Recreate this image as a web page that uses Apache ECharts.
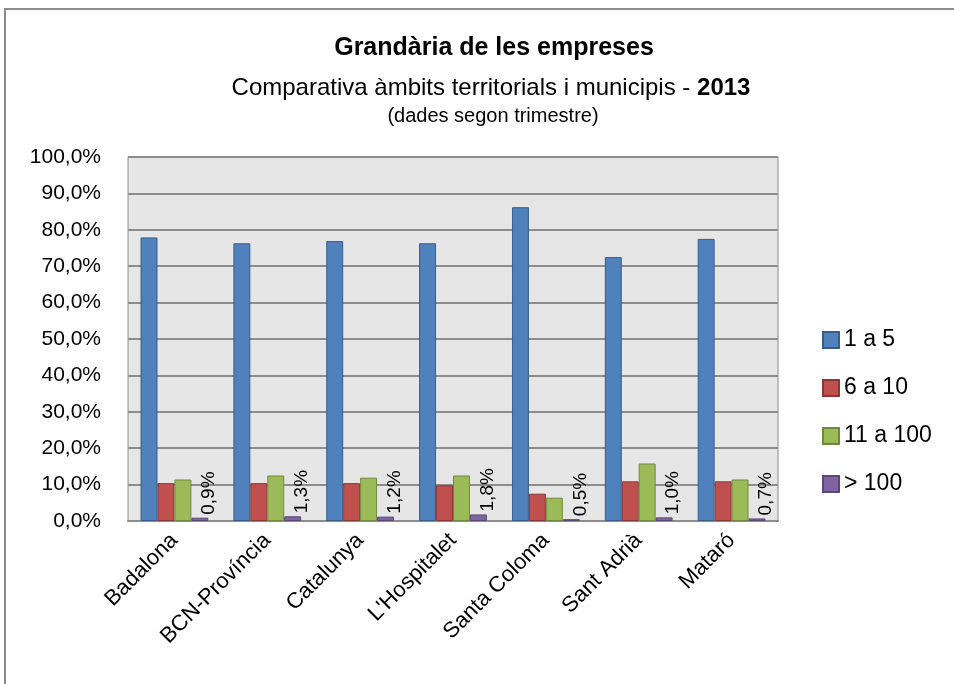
<!DOCTYPE html>
<html>
<head>
<meta charset="utf-8">
<script src="https://cdn.jsdelivr.net/npm/echarts@6/dist/echarts.min.js"></script>
<style>
html, body { margin: 0; padding: 0; background: #fff; }
#chart { width: 954px; height: 684px; }
</style>
</head>
<body>
<div id="chart"></div>
<script>
// dades llegides del gràfic (%)
var categories = ['Badalona', 'BCN-Província', 'Catalunya', "L'Hospitalet", 'Santa Coloma', 'Sant Adrià', 'Mataró'];
var seriesNames = ['1 a 5', '6 a 10', '11 a 100', '> 100'];
var data1a5 = [77.9, 76.3, 76.9, 76.3, 86.2, 72.5, 77.5];
var data6a10 = [10.4, 10.4, 10.4, 9.8, 7.5, 10.9, 10.9];
var data11a100 = [11.4, 12.5, 11.9, 12.5, 6.4, 15.8, 11.4];
var dataMes100 = [0.9, 1.3, 1.2, 1.8, 0.5, 1.0, 0.7];
var yTicks = [0, 10, 20, 30, 40, 50, 60, 70, 80, 90, 100];

var colors = ['#4f81bd', '#c0504d', '#9bbb59', '#8064a2'];
var borders = ['#385d8a', '#8c3836', '#71893f', '#5c4776'];
var font = '"Liberation Sans", Arial, sans-serif';

function pct(v) {
	return v.toFixed(1).replace('.', ',') + '%';
}

var chart = echarts.init(document.getElementById('chart'));

var allData = [data1a5, data6a10, data11a100, dataMes100];
var series = allData.map(function(d, i) {
	var s = {
		name: seriesNames[i],
		type: 'bar',
		data: d,
		barGap: '0%',
		barCategoryGap: '27%',
		itemStyle: {
			color: colors[i],
			borderColor: borders[i],
			borderWidth: 1
		}
	};
	if (i === 3) {
		// etiquetes verticals només per a > 100
		s.label = {
			show: true,
			position: 'top',
			rotate: 90,
			align: 'left',
			verticalAlign: 'middle',
			distance: 3,
			offset: [0, 9],
			color: '#000',
			fontFamily: font,
			fontSize: 19,
			formatter: function(p) { return pct(p.value); }
		};
	}
	return s;
});

var option = {
	backgroundColor: '#fff',
	animation: false,
	textStyle: { fontFamily: font },
	title: [{
		text: 'Grandària de les empreses',
		left: 489,
		top: 31,
		textAlign: 'center',
		textStyle: { fontFamily: font, fontSize: 25, fontWeight: 'bold', color: '#000' }
	}, {
		text: '{n|Comparativa àmbits territorials i municipis - }{b|2013}',
		left: 486,
		top: 71,
		textAlign: 'center',
		textStyle: {
			fontWeight: 'normal',
			rich: {
				n: { fontFamily: font, fontSize: 24, fontWeight: 'normal', color: '#000' },
				b: { fontFamily: font, fontSize: 24, fontWeight: 'bold', color: '#000' }
			}
		}
	}, {
		text: '(dades segon trimestre)',
		left: 488,
		top: 101,
		textAlign: 'center',
		textStyle: { fontFamily: font, fontSize: 20, fontWeight: 'normal', color: '#000' }
	}],
	legend: {
		orient: 'vertical',
		left: 817,
		top: 322,
		itemWidth: 16,
		itemHeight: 16,
		itemGap: 22,
		icon: 'rect',
		data: seriesNames,
		textStyle: { fontFamily: font, fontSize: 23, lineHeight: 26, color: '#000' }
	},
	grid: {
		show: true,
		left: 128,
		right: 176,
		top: 157,
		bottom: 163,
		backgroundColor: '#e6e6e6',
		borderColor: '#8c8c8c',
		borderWidth: 1
	},
	xAxis: {
		type: 'category',
		data: categories,
		axisLine: { show: true, lineStyle: { color: '#8c8c8c', width: 2 } },
		axisTick: { show: false },
		axisLabel: {
			rotate: 45,
			margin: 16,
			color: '#000',
			fontFamily: font,
			fontSize: 22
		}
	},
	yAxis: {
		type: 'value',
		min: yTicks[0],
		max: yTicks[yTicks.length - 1],
		interval: yTicks[1] - yTicks[0],
		axisLine: { show: false },
		axisTick: { show: false },
		splitLine: { show: true, lineStyle: { color: '#8c8c8c', width: 2 } },
		axisLabel: {
			margin: 27,
			color: '#000',
			fontFamily: font,
			fontSize: 21,
			formatter: function(v) { return pct(v); }
		}
	},
	graphic: [{
		type: 'rect',
		shape: { x: 5, y: 9, width: 1200, height: 900 },
		style: { fill: 'none', stroke: '#8c8c8c', lineWidth: 2 },
		silent: true,
		z: -1
	}],
	series: series
};

chart.setOption(option);
</script>
</body>
</html>
